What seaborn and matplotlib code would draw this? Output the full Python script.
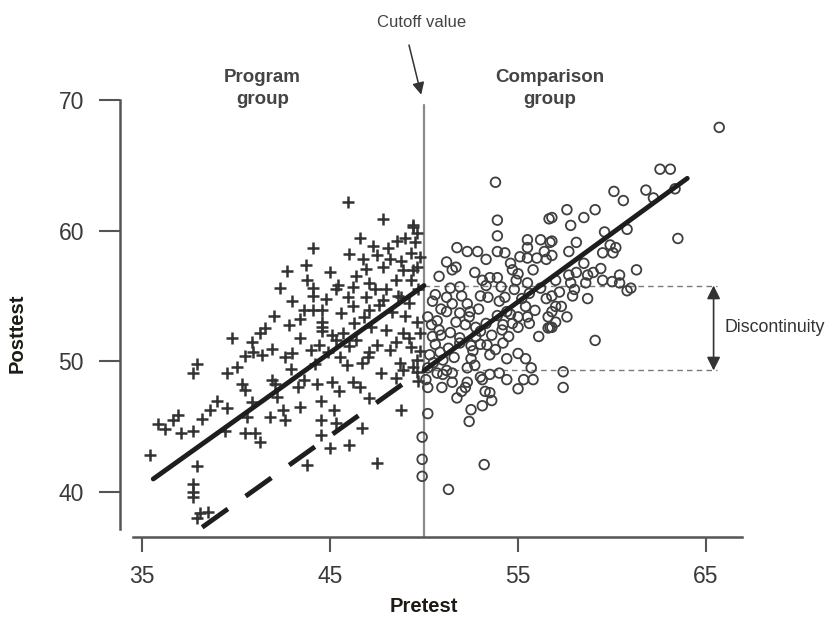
import pandas as pd
import matplotlib
matplotlib.use("Agg")
import matplotlib.pyplot as plt
import seaborn as sns

# ---- data ----
# program group (pretest below cutoff), "+" markers
prog_pre = [41.54, 40.85, 40.9, 41.9, 40.5, 41.4, 40.05, 39.5, 37.9, 37.7,
            40.3, 41.9, 39.5, 40.85, 41.8, 40.6, 35.85, 36.65, 36.9, 38.2,
            37.1, 37.7, 39.4, 40.5, 41.3, 35.4, 37.9, 37.7, 37.7, 37.7,
            38.1, 38.5, 37.9, 45.96, 47.8, 46.6, 44.1, 42.7, 43.8, 42.35,
            44.1, 44.1, 49.4, 48.55, 49.0, 48.1, 47.5, 46.75, 47.8, 48.8,
            46.9, 46.4, 46.2, 45.4, 45.3, 47.1, 47.4, 46.9, 45.95, 45.6,
            43.6, 44.1, 44.6, 43.4, 46.2, 47.1, 49.3, 49.6, 48.9, 49.3,
            48.5, 48.8, 47.8, 46.3, 44.6, 43.0, 42.6, 44.6, 45.1, 45.7,
            44.4, 44.9, 45.55, 45.9, 46.4, 46.7, 47.1, 47.5, 48.0, 48.2,
            48.7, 47.7, 48.5, 48.9, 49.3, 49.6, 49.6, 43.6, 43.3, 44.3,
            45.1, 46.2, 46.6, 42.1, 45.5, 44.5, 47.1, 42.2, 43.4, 42.5,
            45.2, 44.5, 45.3, 42.6, 46.7, 44.5, 45.0, 46.0, 48.8, 47.5,
            43.8, 49.4, 49.5, 49.4, 48.0, 48.6, 49.2, 49.7, 49.0, 49.6,
            48.3, 47.6, 49.8, 49.2, 48.5, 47.2, 46.8, 49.8, 49.4, 48.9,
            49.7, 47.0, 46.0, 45.3, 44.0, 43.4, 42.8, 43.0, 44.8, 45.0,
            43.7, 46.0, 47.3, 48.2, 49.8, 49.6, 44.6, 42.0, 41.3, 39.8,
            40.5, 39.0, 38.6, 42.9, 44.2, 41.0, 36.2]
prog_post = [52.56, 51.5, 50.7, 50.95, 50.4, 50.5, 49.6, 49.1, 49.8, 49.1,
             48.3, 48.6, 46.4, 46.9, 45.75, 45.75, 45.2, 45.5, 45.9, 45.6,
             44.5, 44.7, 44.7, 44.5, 43.8, 42.8, 42.0, 40.6, 40.0, 39.6,
             38.4, 38.5, 38.0, 62.2, 60.9, 59.4, 58.7, 56.9, 56.2, 55.6,
             55.6, 55.0, 60.4, 59.2, 59.4, 58.7, 58.1, 57.8, 57.2, 57.7,
             57.05, 56.5, 55.7, 55.85, 55.5, 56.0, 55.5, 54.9, 54.9, 53.7,
             53.9, 53.9, 53.9, 53.2, 54.2, 53.9, 58.3, 57.2, 57.0, 56.2,
             56.2, 54.9, 54.7, 52.9, 52.6, 50.6, 50.3, 52.3, 52.0, 52.2,
             51.25, 50.7, 50.3, 49.7, 51.6, 49.9, 50.7, 51.25, 52.4, 50.9,
             49.9, 49.1, 48.7, 52.2, 51.1, 50.1, 49.2, 48.6, 48.0, 48.3,
             48.4, 48.4, 48.0, 48.3, 47.7, 47.0, 47.2, 47.3, 46.5, 46.3,
             46.3, 45.5, 45.3, 45.5, 44.9, 44.4, 43.4, 43.6, 46.3, 42.2,
             42.1, 60.3, 59.1, 57.0, 55.5, 55.0, 54.5, 55.5, 53.5, 53.0,
             53.8, 54.3, 52.2, 51.8, 51.5, 52.6, 53.4, 50.8, 49.6, 49.3,
             48.5, 50.3, 51.2, 51.6, 50.9, 51.8, 52.8, 54.6, 54.8, 56.8,
             57.4, 58.2, 58.8, 57.8, 58.0, 59.8, 53.0, 53.5, 52.2, 51.8,
             47.8, 47.0, 46.3, 49.4, 49.8, 44.5, 44.8]

# comparison group (pretest at or above cutoff), "o" markers
comp_pre = [53.8, 53.9, 53.9, 56.65, 51.75, 52.3, 52.85, 53.3, 51.2, 51.7,
            53.9, 54.3, 54.6, 55.1, 55.5, 55.5, 56.2, 56.7, 56.4, 56.0,
            56.5, 55.5, 54.7, 55.0, 55.8, 51.9, 53.1, 53.5, 53.9, 53.3,
            54.1, 55.5, 53.0, 54.3, 54.8, 56.5, 57.0, 56.6, 56.7, 50.6,
            51.2, 50.45, 51.5, 52.3, 51.2, 51.9, 52.45, 50.2, 50.7, 55.4,
            55.0, 55.5, 54.4, 54.7, 54.2, 53.3, 52.75, 55.6, 56.6, 54.15,
            54.5, 55.0, 53.35, 53.5, 54.4, 55.0, 55.4, 55.7, 55.8, 55.3,
            55.0, 54.4, 54.0, 53.5, 53.0, 53.1, 53.5, 53.25, 53.6, 53.1,
            52.5, 52.4, 52.2, 52.0, 51.75, 52.3, 52.5, 52.3, 51.5, 51.5,
            50.95, 50.2, 50.2, 49.9, 49.9, 49.9, 53.2, 51.3, 53.0, 52.75,
            52.5, 51.9, 50.85, 50.5, 50.7, 51.2, 51.0, 50.45, 51.4, 50.8,
            50.1, 65.7, 62.55, 63.1, 60.1, 60.6, 61.8, 62.2, 63.35, 57.6,
            58.5, 59.1, 56.8, 57.8, 59.6, 60.8, 63.5, 56.8, 58.1, 57.7,
            59.5, 60.05, 59.9, 56.8, 58.5, 59.4, 58.7, 57.7, 58.1, 57.0,
            57.8, 58.6, 59.5, 60.0, 60.4, 60.4, 60.8, 57.2, 57.9, 58.7,
            56.8, 57.3, 56.8, 57.6, 56.8, 59.1, 57.4, 57.4, 50.3, 50.6,
            50.9, 51.3, 51.6, 51.9, 52.2, 52.6, 53.0, 53.6, 53.9, 54.2,
            52.9, 52.0, 51.4, 50.8, 50.4, 50.2, 51.0, 52.7, 53.8, 54.6,
            55.2, 55.9, 56.2, 54.0, 51.7, 52.4, 53.4, 50.9, 51.5, 52.7,
            54.9, 55.6, 56.1, 57.0, 58.0, 59.0, 60.2, 61.3, 61.0]
comp_post = [63.7, 60.8, 59.6, 60.9, 58.7, 58.4, 58.4, 57.8, 57.6, 57.2,
             58.4, 58.3, 57.5, 58.0, 59.3, 58.7, 59.3, 59.1, 58.4, 57.9,
             57.8, 57.9, 57.0, 56.7, 57.0, 55.7, 56.2, 56.4, 56.4, 55.8,
             55.7, 56.0, 55.0, 54.9, 55.5, 54.8, 54.2, 53.4, 52.6, 55.1,
             54.9, 54.6, 54.4, 54.4, 53.8, 53.7, 53.8, 53.4, 53.1, 54.2,
             53.4, 53.4, 53.8, 52.9, 52.8, 52.9, 52.6, 52.9, 52.55, 52.4,
             51.9, 52.6, 51.25, 50.5, 50.2, 50.6, 50.2, 49.5, 48.6, 48.6,
             47.9, 48.6, 49.1, 49.0, 48.8, 48.6, 47.6, 47.7, 47.0, 46.6,
             46.3, 45.4, 48.0, 47.7, 47.2, 48.4, 50.2, 49.5, 49.1, 48.4,
             48.0, 48.0, 46.0, 44.2, 42.5, 41.2, 42.1, 40.2, 52.3, 51.9,
             51.2, 51.4, 50.7, 49.9, 49.1, 49.3, 50.1, 51.9, 52.2, 52.4,
             48.6, 67.9, 64.7, 64.7, 63.0, 62.3, 63.1, 62.5, 63.2, 61.6,
             61.0, 61.6, 61.0, 60.4, 59.9, 60.1, 59.4, 59.2, 59.1, 58.4,
             58.3, 58.3, 58.9, 58.1, 57.5, 57.1, 56.6, 56.6, 56.8, 56.2,
             56.0, 56.0, 56.2, 56.1, 56.6, 56.0, 55.4, 55.3, 55.0, 54.8,
             55.0, 54.2, 53.8, 53.4, 52.6, 51.6, 49.2, 48.0, 50.5, 51.3,
             52.0, 51.0, 50.3, 51.8, 52.8, 50.8, 51.3, 52.0, 53.5, 51.4,
             54.0, 55.0, 55.6, 56.5, 52.8, 49.5, 49.0, 49.7, 50.9, 53.6,
             54.8, 53.9, 55.6, 54.6, 53.0, 53.4, 54.9, 54.0, 57.0, 56.8,
             56.2, 55.2, 51.9, 53.0, 55.5, 56.8, 58.7, 57.0, 55.6]

# fitted lines (end points)
prog_fit_x = [35.6, 50.0]
prog_fit_y = [41.0, 55.8]
cf_fit_x = [38.2, 48.9]          # dashed counterfactual line
cf_fit_y = [37.3, 48.3]
comp_fit_x = [50.0, 64.0]
comp_fit_y = [49.3, 64.0]

cutoff = 50
disc_top, disc_bottom = 55.8, 49.3

x_ticks = [35, 45, 55, 65]
y_ticks = [40, 50, 60, 70]

prog_df = pd.DataFrame({"Pretest": prog_pre, "Posttest": prog_post})
comp_df = pd.DataFrame({"Pretest": comp_pre, "Posttest": comp_post})

sns.set_style("white")
plt.rcParams["font.family"] = ["Liberation Sans", "DejaVu Sans"]

fig = plt.figure(figsize=(8.35, 6.17), dpi=100)
ax = fig.add_axes([0.1437, 0.1297, 0.7485, 0.7164])

sns.scatterplot(data=prog_df, x="Pretest", y="Posttest", marker="+", s=85,
                color="#333333", linewidth=1.8, ax=ax, zorder=3)
sns.scatterplot(data=comp_df, x="Pretest", y="Posttest", marker="o", s=48,
                facecolor="none", edgecolor="#3f3f3f", linewidth=1.3,
                ax=ax, zorder=3)

sns.lineplot(x=prog_fit_x, y=prog_fit_y, color="#1e1e1e", linewidth=3.5,
             ax=ax, zorder=4)
sns.lineplot(x=comp_fit_x, y=comp_fit_y, color="#1e1e1e", linewidth=3.5,
             ax=ax, zorder=4)
ax.plot(cf_fit_x, cf_fit_y, color="#1e1e1e", linewidth=3.5,
        dashes=(6.5, 4.5), solid_capstyle="butt", zorder=4)

# cutoff line
ax.plot([cutoff, cutoff], [36.56, 69.6], color="#8a8a8a", linewidth=1.6, zorder=2)

# discontinuity guides
ax.plot([cutoff, 65.6], [disc_top, disc_top], color="#7a7a7a",
        linewidth=1.0, dashes=(4, 3), clip_on=False)
ax.plot([cutoff, 65.6], [disc_bottom, disc_bottom], color="#7a7a7a",
        linewidth=1.0, dashes=(4, 3), clip_on=False)
ax.annotate("", xy=(65.4, disc_top), xytext=(65.4, disc_bottom),
            arrowprops=dict(arrowstyle="<|-|>", color="#333333", lw=1.2,
                            mutation_scale=20, shrinkA=0, shrinkB=0),
            annotation_clip=False)
ax.text(66.0, 52.6, "Discontinuity", fontsize=12.8, color="#333333",
        ha="left", va="center", clip_on=False)

# cutoff annotation
ax.text(49.85, 75.95, "Cutoff value", fontsize=12, color="#444444",
        ha="center", va="center", clip_on=False)
ax.annotate("", xy=(49.85, 70.4), xytext=(49.2, 74.2),
            arrowprops=dict(arrowstyle="-|>", color="#333333", lw=1.1,
                            mutation_scale=18, shrinkA=0, shrinkB=0),
            annotation_clip=False)

ax.text(41.4, 70.9, "Program\ngroup", fontsize=13.5, fontweight="bold",
        color="#444444", ha="center", va="center", linespacing=1.4,
        clip_on=False)
ax.text(56.7, 70.9, "Comparison\ngroup", fontsize=13.5, fontweight="bold",
        color="#444444", ha="center", va="center", linespacing=1.4,
        clip_on=False)

ax.set_xlim(33.83, 67.07)
ax.set_ylim(36.56, 70.38)
ax.set_xticks(x_ticks)
ax.set_yticks(y_ticks)
ax.tick_params(axis="both", width=1.5, color="#555555", left=True,
               bottom=True, labelsize=16.5, labelcolor="#3a3a3a")
ax.tick_params(axis="y", length=15, pad=11)
ax.tick_params(axis="x", length=11, pad=9.5)

for side in ["top", "right"]:
    ax.spines[side].set_visible(False)
for side in ["left", "bottom"]:
    ax.spines[side].set_color("#555555")
    ax.spines[side].set_linewidth(1.8)
ax.spines["left"].set_bounds(37.2, 70)
ax.spines["bottom"].set_bounds(34.5, 66.9)

ax.set_xlabel("Pretest", fontsize=14.5, fontweight="bold", color="#1e1a14")
ax.set_ylabel("Posttest", fontsize=14.5, fontweight="bold", color="#1e1a14")
ax.xaxis.set_label_coords(0.486, -0.135)
ax.yaxis.set_label_coords(-0.15, 0.46)

fig.savefig("out.png", dpi=100)
